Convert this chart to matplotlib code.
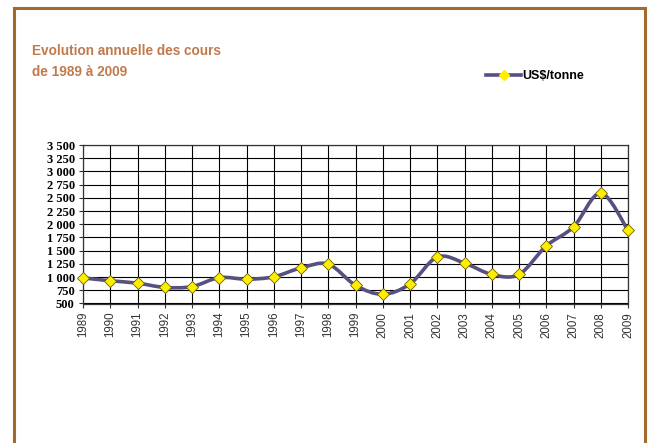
import numpy as np
import matplotlib
matplotlib.use("Agg")
import matplotlib.pyplot as plt
from matplotlib.path import Path
from matplotlib.patches import PathPatch, Rectangle
from matplotlib.lines import Line2D

# data
years = list(range(1989, 2010))
prices = [985, 930, 885, 805, 820, 990, 960, 1005, 1175, 1245, 845,
          675, 870, 1380, 1265, 1050, 1050, 1590, 1950, 2590, 1885]
y_ticks = [500, 750, 1000, 1250, 1500, 1750, 2000, 2250, 2500, 2750, 3000, 3250, 3500]
y_labels = ["500", "750", "1 000", "1 250", "1 500", "1 750", "2 000",
            "2 250", "2 500", "2 750", "3 000", "3 250", "3 500"]

line_col = "#575080"
title_col = "#c07a4c"
frame_col = "#a36a2e"


def smooth_path(x, y):
    # bezier segments like an Excel "smoothed line"
    x = np.asarray(x, float)
    y = np.asarray(y, float)
    n = len(x)
    verts = [(x[0], y[0])]
    codes = [Path.MOVETO]
    for i in range(n - 1):
        x0, y0 = (x[i - 1], y[i - 1]) if i > 0 else (x[i], y[i])
        x3, y3 = (x[i + 2], y[i + 2]) if i + 2 < n else (x[i + 1], y[i + 1])
        c1 = (x[i] + (x[i + 1] - x0) / 6, y[i] + (y[i + 1] - y0) / 6)
        c2 = (x[i + 1] - (x3 - x[i]) / 6, y[i + 1] - (y3 - y[i]) / 6)
        verts += [c1, c2, (x[i + 1], y[i + 1])]
        codes += [Path.CURVE4] * 3
    return Path(verts, codes)


fig = plt.figure(figsize=(6.5, 4.43), dpi=100)
fig.patch.set_facecolor("white")

# brown frame around the whole chart
fig.patches.append(Rectangle((14 / 650, -0.05), 631 / 650, 1.05 - 8 / 443,
                             transform=fig.transFigure, fill=False,
                             edgecolor=frame_col, linewidth=2.2))

ax = fig.add_axes([83 / 650, 1 - 303.5 / 443, 545 / 650, 158.5 / 443])
ax.set_xlim(1989, 2009)
ax.set_ylim(500, 3500)

ax.add_patch(PathPatch(smooth_path(years, prices), fill=False,
                       edgecolor=line_col, linewidth=2.6, zorder=3,
                       capstyle="round", joinstyle="round"))
ax.plot(years, prices, linestyle="none", marker="D", markersize=6.5,
        markerfacecolor="#ffee00", markeredgecolor="#6a6200",
        markeredgewidth=0.6, zorder=4, clip_on=False)

ax.set_xticks(years)
ax.set_xticklabels([str(y) for y in years], rotation=90, fontsize=8.3,
                   family="Liberation Sans", color="#333333")
ax.set_yticks(y_ticks)
ax.set_yticklabels(y_labels, fontsize=9, family="Liberation Serif",
                   fontweight="bold")
ax.tick_params(axis="both", length=3, width=0.8, color="#333333", pad=3)
ax.grid(True, color="black", linewidth=0.8)
for s in ax.spines.values():
    s.set_color("#333333")
    s.set_linewidth(0.9)

fig.text(32 / 650, 1 - 61.5 / 443, "Evolution annuelle des cours\nde 1989 à 2009",
         fontsize=9.8, fontweight="bold", color=title_col, family="Liberation Sans",
         va="center", ha="left", linespacing=1.6)

# legend
handle = Line2D([], [], color=line_col, linewidth=2.6, marker="D", markersize=5,
                markerfacecolor="#ffee00", markeredgecolor="#ffee00")
leg = fig.legend([handle], ["US$/tonne"], loc="center left",
                 bbox_to_anchor=(480 / 650, 1 - 76 / 443), frameon=False,
                 handlelength=2.8, handletextpad=0.05, borderpad=0,
                 prop={"family": "Liberation Sans", "weight": "bold", "size": 9})

fig.savefig("out.png", dpi=100)
